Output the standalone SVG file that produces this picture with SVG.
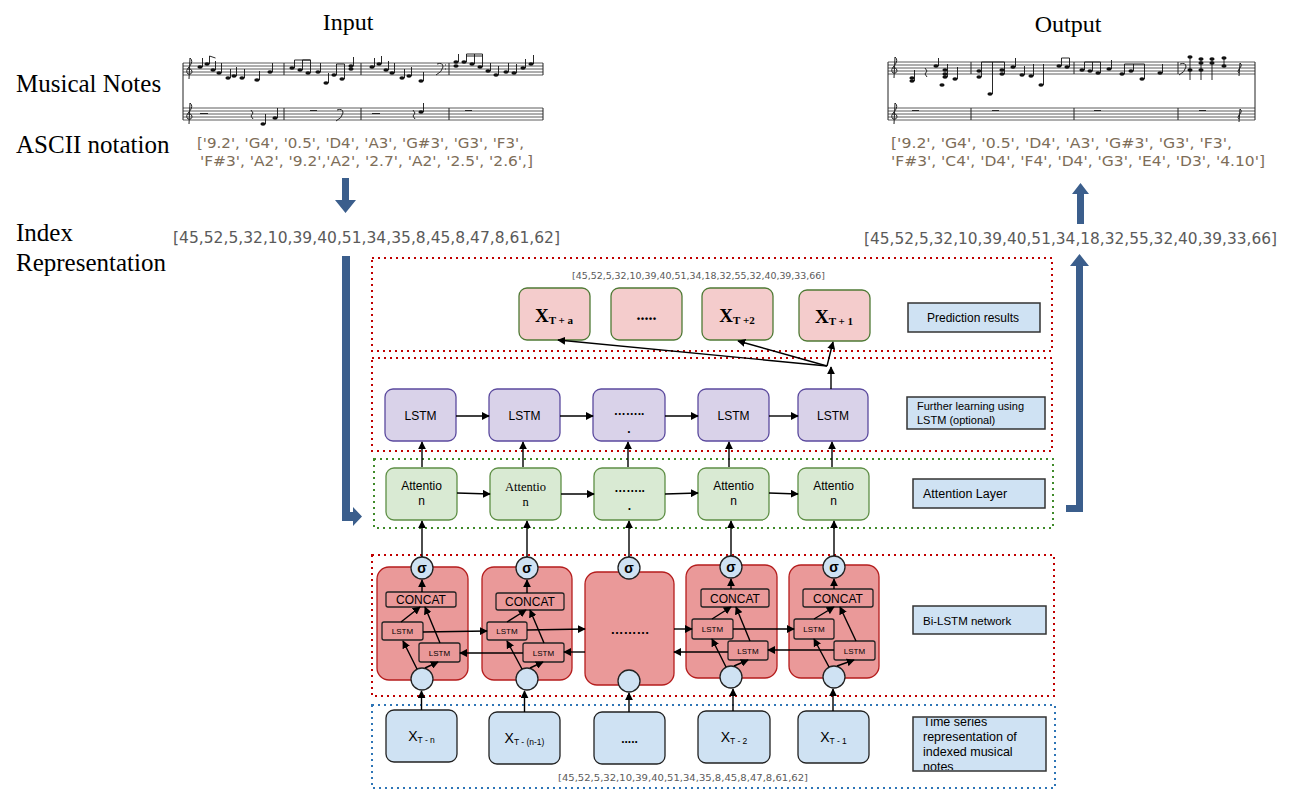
<svg xmlns="http://www.w3.org/2000/svg" width="1298" height="790" viewBox="0 0 1298 790">
<defs>
<marker id="ah" viewBox="0 0 10 10" refX="9" refY="5" markerWidth="8" markerHeight="8" markerUnits="userSpaceOnUse" orient="auto"><path d="M0,0 L10,5 L0,10 z" fill="#000"/></marker>
<clipPath id="tsclip"><rect x="914" y="718" width="131" height="52"/></clipPath>
<style>
.serif{font-family:"Liberation Serif","Times New Roman",serif;fill:#000}
.sans{font-family:"Liberation Sans",Arial,sans-serif;fill:#000}
.list{font-family:"DejaVu Sans","Open Sans",sans-serif;fill:#7d6d58;font-size:13.5px}
.idx{font-family:"DejaVu Sans","Open Sans",sans-serif;fill:#5a5a5a}
.staff{stroke:#333;stroke-width:0.8;fill:none}
.bar{stroke:#222;stroke-width:1;fill:none}
.nh{fill:#111}
.stem{stroke:#111;stroke-width:0.9}
.pink{fill:#f4cccc;stroke:#4f7a35;stroke-width:1.3}
.purple{fill:#d9d2e9;stroke:#5b4a9e;stroke-width:1.3}
.green{fill:#d9ead3;stroke:#5e8f45;stroke-width:1.3}
.cell{fill:#ea9999;stroke:#b51d1d;stroke-width:1.3}
.inner{fill:#ea9999;stroke:#222;stroke-width:1.3}
.lblue{fill:#cfe2f3;stroke:#222;stroke-width:1.3}
.label{fill:#cfe2f3;stroke:#333;stroke-width:1.5}
.conn{stroke:#000;stroke-width:1.4;fill:none;marker-end:url(#ah)}
.line{stroke:#000;stroke-width:1.4;fill:none}
.dotr{fill:none;stroke:#c00000;stroke-width:2;stroke-dasharray:2 4}
.dotg{fill:none;stroke:#3f8a2a;stroke-width:2;stroke-dasharray:2 4}
.dotb{fill:none;stroke:#2e75b6;stroke-width:2;stroke-dasharray:2 4}
.barrow{fill:#3b5e8c}
</style>
</defs>
<rect width="1298" height="790" fill="#fff"/>

<!-- headings -->
<g id="headings">
<text class="serif" x="348" y="30" font-size="24" text-anchor="middle">Input</text>
<text class="serif" x="1068" y="32" font-size="24" text-anchor="middle">Output</text>
<text class="serif" x="16" y="92" font-size="25">Musical Notes</text>
<text class="serif" x="16" y="153" font-size="25">ASCII notation</text>
<text class="serif" x="16" y="241" font-size="25">Index</text>
<text class="serif" x="16" y="271" font-size="25">Representation</text>
</g>

<!-- input score -->
<g id="input-score">
<path class="staff" d="M183,63H543M183,66H543M183,69H543M183,72H543M183,75H543M183,108H543M183,111H543M183,114H543M183,117H543M183,120H543"/>
<path class="bar" d="M183,63V120M284,63V75M361,63V75M449,63V75M543,63V75M284,108V120M361,108V120M449,108V120M543,108V120"/>
<path class="bar" d="M189,79 L190,58 Q194,61 189,67 Q185,71 188,74 Q192,75 192,71 Q191,68 188,69 M189,124 L190,103 Q194,106 189,112 Q185,116 188,119 Q192,120 192,116 Q191,113 188,114"/>
<g>
<ellipse class="nh" cx="200" cy="67" rx="2.6" ry="1.8"/><ellipse class="nh" cx="207" cy="64" rx="2.6" ry="1.8"/><ellipse class="nh" cx="213" cy="70" rx="2.6" ry="1.8"/><ellipse class="nh" cx="219" cy="73" rx="2.6" ry="1.8"/><ellipse class="nh" cx="228" cy="78" rx="2.6" ry="1.8"/><ellipse class="nh" cx="234" cy="76" rx="2.6" ry="1.8"/><ellipse class="nh" cx="242" cy="78" rx="2.6" ry="1.8"/><ellipse class="nh" cx="257" cy="80" rx="2.6" ry="1.8"/><ellipse class="nh" cx="270" cy="72" rx="2.6" ry="1.8"/>
<ellipse class="nh" cx="292" cy="68" rx="2.6" ry="1.8"/><ellipse class="nh" cx="300" cy="70" rx="2.6" ry="1.8"/><ellipse class="nh" cx="308" cy="73" rx="2.6" ry="1.8"/><ellipse class="nh" cx="318" cy="72" rx="2.6" ry="1.8"/><ellipse class="nh" cx="326" cy="83" rx="2.6" ry="1.8"/><ellipse class="nh" cx="334" cy="75" rx="2.6" ry="1.8"/><ellipse class="nh" cx="342" cy="79" rx="2.6" ry="1.8"/><ellipse class="nh" cx="351" cy="69" rx="2.6" ry="1.8"/><ellipse class="nh" cx="351" cy="66" rx="2.6" ry="1.8"/>
<ellipse class="nh" cx="372" cy="67" rx="2.6" ry="1.8"/><ellipse class="nh" cx="379" cy="64" rx="2.6" ry="1.8"/><ellipse class="nh" cx="386" cy="70" rx="2.6" ry="1.8"/><ellipse class="nh" cx="392" cy="73" rx="2.6" ry="1.8"/><ellipse class="nh" cx="402" cy="78" rx="2.6" ry="1.8"/><ellipse class="nh" cx="409" cy="76" rx="2.6" ry="1.8"/><ellipse class="nh" cx="421" cy="81" rx="2.6" ry="1.8"/>
<ellipse class="nh" cx="456" cy="62" rx="2.6" ry="1.8"/><ellipse class="nh" cx="456" cy="66" rx="2.6" ry="1.8"/><ellipse class="nh" cx="464" cy="62" rx="2.6" ry="1.8"/><ellipse class="nh" cx="472" cy="64" rx="2.6" ry="1.8"/><ellipse class="nh" cx="480" cy="67" rx="2.6" ry="1.8"/><ellipse class="nh" cx="488" cy="71" rx="2.6" ry="1.8"/><ellipse class="nh" cx="496" cy="75" rx="2.6" ry="1.8"/><ellipse class="nh" cx="506" cy="72" rx="2.6" ry="1.8"/><ellipse class="nh" cx="514" cy="73" rx="2.6" ry="1.8"/><ellipse class="nh" cx="523" cy="68" rx="2.6" ry="1.8"/><ellipse class="nh" cx="531" cy="64" rx="2.6" ry="1.8"/>
</g>
<path class="stem" d="M202.5,67V58M209.5,64V56M215.5,70V61M221.5,73V63M230.5,78V69M236.5,76V67M244.5,78V69M259.5,80V71M272.5,72V63M294.5,68V60M302.5,70V60M310.5,73V60M320.5,72V63M328.5,83V73M336.5,75V64M344.5,79V64M353.5,66V57M374.5,67V58M381.5,64V56M388.5,70V61M394.5,73V63M404.5,78V69M411.5,76V67M423.5,81V72M458.5,62V54M466.5,62V54M474.5,64V54M482.5,67V54M490.5,71V63M498.5,75V66M508.5,72V63M516.5,73V64M525.5,68V59M533.5,64V55"/>
<path class="stem" d="M209.5,56L215.5,58M294.5,60L310.5,60M302.5,60L310.5,60M336.5,64L344.5,64M466.5,54L482.5,54M466.5,56L482.5,56" stroke-width="1.6"/>
<path class="bar" d="M437,64 Q443,62 443,67 Q442,72 436,75 M445,65h1M445,69h1" stroke-width="1.2"/>
<path class="bar" d="M200,113.5h8M310,110.5h7M372,113.5h8M465,110.5h7" stroke-width="2.4"/>
<path class="bar" d="M251,110l2,3l-2,3l2,3M413,110l2,3l-2,3l2,3M337,110 Q343,108 343,113 Q342,118 336,121" stroke-width="1.1"/>
<ellipse class="nh" cx="263" cy="124" rx="2.6" ry="1.8"/><ellipse class="nh" cx="275" cy="118" rx="2.6" ry="1.8"/><ellipse class="nh" cx="421" cy="112" rx="2.6" ry="1.8"/>
<path class="stem" d="M265.5,124V114M277.5,118V108M423.5,112V103"/>
</g>

<!-- output score -->
<g id="output-score">
<path class="staff" d="M888,62H1255M888,65H1255M888,68H1255M888,71H1255M888,74H1255M888,108H1255M888,111H1255M888,114H1255M888,117H1255M888,120H1255"/>
<path class="bar" d="M888,62V120M971,62V74M1074,62V74M1178,62V74M1255,62V120M971,108V120M1074,108V120M1178,108V120"/>
<path class="bar" d="M894,78 L895,57 Q899,60 894,66 Q890,70 893,73 Q897,74 897,70 Q896,67 893,68 M894,124 L895,103 Q899,106 894,112 Q890,116 893,119 Q897,120 897,116 Q896,113 893,114 M1239,76 L1240,63 Q1243,65 1239,69 Q1237,72 1239,73 M1239,122 L1240,109 Q1243,111 1239,115 Q1237,118 1239,119"/>
<g>
<ellipse class="nh" cx="912" cy="78" rx="2.6" ry="1.8"/><ellipse class="nh" cx="912" cy="81" rx="2.6" ry="1.8"/><ellipse class="nh" cx="936" cy="66" rx="2.6" ry="1.8"/><ellipse class="nh" cx="945" cy="70" rx="2.6" ry="1.8"/><ellipse class="nh" cx="945" cy="74" rx="2.6" ry="1.8"/><ellipse class="nh" cx="945" cy="77" rx="2.6" ry="1.8"/><ellipse class="nh" cx="942" cy="85" rx="2.6" ry="1.8"/><ellipse class="nh" cx="955" cy="79" rx="2.6" ry="1.8"/>
<ellipse class="nh" cx="979" cy="71" rx="2.6" ry="1.8"/><ellipse class="nh" cx="979" cy="77" rx="2.6" ry="1.8"/><ellipse class="nh" cx="990" cy="94" rx="2.6" ry="1.8"/><ellipse class="nh" cx="1002" cy="70" rx="2.6" ry="1.8"/><ellipse class="nh" cx="1002" cy="74" rx="2.6" ry="1.8"/><ellipse class="nh" cx="1013" cy="67" rx="2.6" ry="1.8"/><ellipse class="nh" cx="1022" cy="75" rx="2.6" ry="1.8"/><ellipse class="nh" cx="1031" cy="76" rx="2.6" ry="1.8"/><ellipse class="nh" cx="1041" cy="85" rx="2.6" ry="1.8"/><ellipse class="nh" cx="1059" cy="66" rx="2.6" ry="1.8"/><ellipse class="nh" cx="1067" cy="67" rx="2.6" ry="1.8"/>
<ellipse class="nh" cx="1082" cy="70" rx="2.6" ry="1.8"/><ellipse class="nh" cx="1090" cy="71" rx="2.6" ry="1.8"/><ellipse class="nh" cx="1098" cy="73" rx="2.6" ry="1.8"/><ellipse class="nh" cx="1109" cy="69" rx="2.6" ry="1.8"/><ellipse class="nh" cx="1122" cy="74" rx="2.6" ry="1.8"/><ellipse class="nh" cx="1131" cy="71" rx="2.6" ry="1.8"/><ellipse class="nh" cx="1142" cy="79" rx="2.6" ry="1.8"/><ellipse class="nh" cx="1160" cy="73" rx="2.6" ry="1.8"/>
<ellipse class="nh" cx="1190" cy="57" rx="2.6" ry="1.8"/><ellipse class="nh" cx="1190" cy="70" rx="2.6" ry="1.8"/><ellipse class="nh" cx="1201" cy="59" rx="2.6" ry="1.8"/><ellipse class="nh" cx="1201" cy="63" rx="2.6" ry="1.8"/><ellipse class="nh" cx="1201" cy="70" rx="2.6" ry="1.8"/><ellipse class="nh" cx="1212" cy="59" rx="2.6" ry="1.8"/><ellipse class="nh" cx="1212" cy="63" rx="2.6" ry="1.8"/><ellipse class="nh" cx="1224" cy="58" rx="2.6" ry="1.8"/><ellipse class="nh" cx="1224" cy="66" rx="2.6" ry="1.8"/>
</g>
<path class="stem" d="M914.5,81V70M938.5,66V58M947.5,77V64M957.5,79V67M981.5,77V62M992.5,94V62M1004.5,74V62M1015.5,67V58M1024.5,75V66M1033.5,76V64M1043.5,85V64M1061.5,66V58M1069.5,67V58M1084.5,70V62M1092.5,71V62M1100.5,73V62M1111.5,69V60M1124.5,74V64M1133.5,71V64M1144.5,79V64M1162.5,73V64M1190,57V80M1201,59V80M1212,59V80M1224,58V66"/>
<path class="stem" d="M981.5,62L1004.5,62M1061.5,58L1069.5,58M1084.5,62L1100.5,62M1124.5,64L1144.5,64" stroke-width="1.6"/>
<path class="bar" d="M1180,64 Q1186,62 1186,67 Q1185,72 1179,75" stroke-width="1.2"/>
<path class="bar" d="M912,110.5h7M992,110.5h7M1094,110.5h7M1199,110.5h7" stroke-width="2.4"/>
<path class="bar" d="M925,68l2,3l-2,3l2,3" stroke-width="1.1"/>
</g>

<!-- text lists -->
<g id="lists">
<text class="list" x="197" y="148" textLength="327" lengthAdjust="spacingAndGlyphs">['9.2', 'G4', '0.5', 'D4', 'A3', 'G#3', 'G3', 'F3',</text>
<text class="list" x="200" y="166" textLength="333" lengthAdjust="spacingAndGlyphs">'F#3', 'A2', '9.2','A2', '2.7', 'A2', '2.5', '2.6',]</text>
<text class="list" x="891" y="148" textLength="341" lengthAdjust="spacingAndGlyphs">['9.2', 'G4', '0.5', 'D4', 'A3', 'G#3', 'G3', 'F3',</text>
<text class="list" x="891" y="166" textLength="374" lengthAdjust="spacingAndGlyphs">'F#3', 'C4', 'D4', 'F4', 'D4', 'G3', 'E4', 'D3', '4.10']</text>
<text class="idx" x="173" y="243" font-size="15" textLength="387" lengthAdjust="spacingAndGlyphs">[45,52,5,32,10,39,40,51,34,35,8,45,8,47,8,61,62]</text>
<text class="idx" x="864" y="244" font-size="15" textLength="413" lengthAdjust="spacingAndGlyphs">[45,52,5,32,10,39,40,51,34,18,32,55,32,40,39,33,66]</text>
<text class="idx" x="572" y="279" font-size="8.5" textLength="253" lengthAdjust="spacingAndGlyphs">[45,52,5,32,10,39,40,51,34,18,32,55,32,40,39,33,66]</text>
<text class="idx" x="558" y="781" font-size="8.5" textLength="250" lengthAdjust="spacingAndGlyphs">[45,52,5,32,10,39,40,51,34,35,8,45,8,47,8,61,62]</text>
</g>

<!-- blue block arrows -->
<g id="block-arrows">
<polygon class="barrow" points="342,178 349,178 349,200 356,200 345.5,213 335,200 342,200"/>
<polygon class="barrow" points="1077,224 1084,224 1084,194 1089,194 1080.5,183 1072,194 1077,194"/>
<polygon class="barrow" points="342,256 350,256 350,512 353,512 353,507 362,516.5 353,526 353,521 342,521"/>
<polygon class="barrow" points="1066,505 1076,505 1076,266 1070,266 1079.5,254 1089,266 1083,266 1083,512 1066,512"/>
</g>

<!-- layer frames -->
<g id="frames">
<rect class="dotr" x="372" y="258" width="680" height="93"/>
<rect class="dotr" x="372" y="358" width="680" height="93"/>
<rect class="dotg" x="374" y="459" width="679" height="69"/>
<rect class="dotr" x="372" y="555" width="682" height="141"/>
<rect class="dotb" x="372" y="705" width="683" height="83"/>
</g>

<!-- prediction nodes -->
<g id="pred-a"><rect class="pink" x="519" y="288" width="71" height="52" rx="8"/><text class="serif" x="554" y="322" text-anchor="middle" font-weight="bold"><tspan font-size="19">X</tspan><tspan font-size="11" dy="2">T + a</tspan></text></g>
<g id="pred-dots"><rect class="pink" x="611" y="288" width="71" height="52" rx="8"/><text class="serif" x="646.5" y="320" text-anchor="middle" font-weight="bold" font-size="16">.....</text></g>
<g id="pred-2"><rect class="pink" x="702" y="288" width="71" height="52" rx="8"/><text class="serif" x="737" y="322" text-anchor="middle" font-weight="bold"><tspan font-size="19">X</tspan><tspan font-size="11" dy="2">T +2</tspan></text></g>
<g id="pred-1"><rect class="pink" x="799" y="290" width="71" height="51" rx="8"/><text class="serif" x="834" y="323" text-anchor="middle" font-weight="bold"><tspan font-size="19">X</tspan><tspan font-size="11" dy="2">T + 1</tspan></text></g>

<!-- LSTM layer -->
<g id="lstm-1"><rect class="purple" x="385" y="389" width="71" height="52" rx="8"/><text class="sans" x="420.5" y="420" font-size="12" text-anchor="middle">LSTM</text></g>
<g id="lstm-2"><rect class="purple" x="489" y="389" width="71" height="52" rx="8"/><text class="sans" x="524.5" y="420" font-size="12" text-anchor="middle">LSTM</text></g>
<g id="lstm-3"><rect class="purple" x="593" y="389" width="72" height="52" rx="8"/><text class="sans" x="629" y="415" font-size="12" font-weight="bold" text-anchor="middle">……..</text><text class="sans" x="629" y="433" font-size="12" font-weight="bold" text-anchor="middle">.</text></g>
<g id="lstm-4"><rect class="purple" x="698" y="389" width="71" height="52" rx="8"/><text class="sans" x="733.5" y="420" font-size="12" text-anchor="middle">LSTM</text></g>
<g id="lstm-5"><rect class="purple" x="798" y="389" width="70" height="52" rx="8"/><text class="sans" x="833" y="420" font-size="12" text-anchor="middle">LSTM</text></g>

<!-- Attention layer -->
<g id="att-1"><rect class="green" x="386" y="468" width="71" height="52" rx="8"/><text class="sans" x="421.5" y="490" font-size="12" text-anchor="middle">Attentio</text><text class="sans" x="421.5" y="505" font-size="12" text-anchor="middle">n</text></g>
<g id="att-2"><rect class="green" x="490" y="468" width="71" height="52" rx="8"/><text class="serif" x="525.5" y="491" font-size="12.5" text-anchor="middle">Attentio</text><text class="serif" x="525.5" y="506" font-size="12.5" text-anchor="middle">n</text></g>
<g id="att-3"><rect class="green" x="594" y="468" width="71" height="52" rx="8"/><text class="sans" x="629.5" y="492" font-size="12" font-weight="bold" text-anchor="middle">……..</text><text class="sans" x="629.5" y="510" font-size="12" font-weight="bold" text-anchor="middle">.</text></g>
<g id="att-4"><rect class="green" x="698" y="468" width="71" height="52" rx="8"/><text class="sans" x="733.5" y="490" font-size="12" text-anchor="middle">Attentio</text><text class="sans" x="733.5" y="505" font-size="12" text-anchor="middle">n</text></g>
<g id="att-5"><rect class="green" x="798" y="468" width="71" height="52" rx="8"/><text class="sans" x="833.5" y="490" font-size="12" text-anchor="middle">Attentio</text><text class="sans" x="833.5" y="505" font-size="12" text-anchor="middle">n</text></g>

<!-- Bi-LSTM cells -->
<g id="bilstm-1">
<rect class="cell" x="377" y="567" width="91" height="113" rx="12"/>
<rect class="inner" x="386" y="592" width="70" height="15" rx="2"/><text class="sans" x="421" y="604" font-size="12" text-anchor="middle">CONCAT</text>
<rect class="inner" x="382" y="622" width="41" height="18" rx="2"/><text class="sans" x="402.5" y="634" font-size="8" text-anchor="middle">LSTM</text>
<rect class="inner" x="419" y="643" width="41" height="19" rx="2"/><text class="sans" x="439.5" y="656" font-size="8" text-anchor="middle">LSTM</text>
<circle class="lblue" cx="422" cy="568" r="11"/><text class="sans" x="422" y="573" font-size="14" font-weight="bold" text-anchor="middle">σ</text>
<circle class="lblue" cx="422" cy="679" r="11"/>
</g>
<g id="bilstm-2">
<rect class="cell" x="482" y="567" width="90" height="113" rx="12"/>
<rect class="inner" x="496" y="593" width="68" height="17" rx="2"/><text class="sans" x="530" y="606" font-size="12" text-anchor="middle">CONCAT</text>
<rect class="inner" x="487" y="622" width="40" height="18" rx="2"/><text class="sans" x="507" y="634" font-size="8" text-anchor="middle">LSTM</text>
<rect class="inner" x="523" y="643" width="41" height="19" rx="2"/><text class="sans" x="543.5" y="656" font-size="8" text-anchor="middle">LSTM</text>
<circle class="lblue" cx="527" cy="568" r="11"/><text class="sans" x="527" y="573" font-size="14" font-weight="bold" text-anchor="middle">σ</text>
<circle class="lblue" cx="527" cy="679" r="11"/>
</g>
<g id="bilstm-3">
<rect class="cell" x="585" y="572" width="89" height="113" rx="12"/>
<text class="sans" x="630" y="634" font-size="13" font-weight="bold" text-anchor="middle">………</text>
<circle class="lblue" cx="629" cy="568" r="11"/><text class="sans" x="629" y="573" font-size="14" font-weight="bold" text-anchor="middle">σ</text>
<circle class="lblue" cx="629" cy="681" r="11"/>
</g>
<g id="bilstm-4">
<rect class="cell" x="686" y="565" width="91" height="113" rx="12"/>
<rect class="inner" x="701" y="589" width="68" height="18" rx="2"/><text class="sans" x="735" y="603" font-size="12" text-anchor="middle">CONCAT</text>
<rect class="inner" x="692" y="619" width="41" height="20" rx="2"/><text class="sans" x="712.5" y="632" font-size="8" text-anchor="middle">LSTM</text>
<rect class="inner" x="728" y="641" width="40" height="19" rx="2"/><text class="sans" x="748" y="654" font-size="8" text-anchor="middle">LSTM</text>
<circle class="lblue" cx="731" cy="567" r="11"/><text class="sans" x="731" y="572" font-size="14" font-weight="bold" text-anchor="middle">σ</text>
<circle class="lblue" cx="731" cy="677" r="11"/>
</g>
<g id="bilstm-5">
<rect class="cell" x="789" y="565" width="90" height="113" rx="12"/>
<rect class="inner" x="803" y="589" width="70" height="18" rx="2"/><text class="sans" x="838" y="603" font-size="12" text-anchor="middle">CONCAT</text>
<rect class="inner" x="794" y="619" width="40" height="20" rx="2"/><text class="sans" x="814" y="632" font-size="8" text-anchor="middle">LSTM</text>
<rect class="inner" x="834" y="641" width="41" height="19" rx="2"/><text class="sans" x="854.5" y="654" font-size="8" text-anchor="middle">LSTM</text>
<circle class="lblue" cx="834" cy="567" r="11"/><text class="sans" x="834" y="572" font-size="14" font-weight="bold" text-anchor="middle">σ</text>
<circle class="lblue" cx="834" cy="677" r="11"/>
</g>

<!-- time series nodes -->
<g id="x-tn"><rect class="lblue" x="386" y="710" width="71" height="52" rx="8"/><text class="sans" x="421.5" y="741" text-anchor="middle"><tspan font-size="14">X</tspan><tspan font-size="8.5" dy="2">T - n</tspan></text></g>
<g id="x-tn1"><rect class="lblue" x="489" y="712" width="71" height="52" rx="8"/><text class="sans" x="524.5" y="743" text-anchor="middle"><tspan font-size="14">X</tspan><tspan font-size="8.5" dy="2">T - (n-1)</tspan></text></g>
<g id="x-dots"><rect class="lblue" x="594" y="712" width="71" height="52" rx="8"/><text class="sans" x="629.5" y="743" font-size="12" font-weight="bold" text-anchor="middle">.....</text></g>
<g id="x-t2"><rect class="lblue" x="698" y="711" width="72" height="52" rx="8"/><text class="sans" x="734" y="742" text-anchor="middle"><tspan font-size="14">X</tspan><tspan font-size="8.5" dy="2">T - 2</tspan></text></g>
<g id="x-t1"><rect class="lblue" x="798" y="711" width="71" height="52" rx="8"/><text class="sans" x="833.5" y="742" text-anchor="middle"><tspan font-size="14">X</tspan><tspan font-size="8.5" dy="2">T - 1</tspan></text></g>

<!-- legend labels -->
<g id="lbl-pred"><rect class="label" x="908" y="303" width="132" height="29"/><text class="sans" x="927" y="322" font-size="12">Prediction results</text></g>
<g id="lbl-further"><rect class="label" x="907" y="397" width="138" height="32"/><text class="sans" x="917" y="410" font-size="11">Further learning using</text><text class="sans" x="917" y="424" font-size="11">LSTM (optional)</text></g>
<g id="lbl-att"><rect class="label" x="913" y="479" width="132" height="29"/><text class="sans" x="923" y="498" font-size="12.5">Attention Layer</text></g>
<g id="lbl-bilstm"><rect class="label" x="913" y="606" width="133" height="28"/><text class="sans" x="923" y="625" font-size="11.5">Bi-LSTM network</text></g>
<g id="lbl-ts"><rect class="label" x="913" y="717" width="133" height="54"/>
<g clip-path="url(#tsclip)"><text class="sans" x="923" y="726" font-size="12.5">Time series</text><text class="sans" x="923" y="741" font-size="12.5">representation of</text><text class="sans" x="923" y="756" font-size="12.5">indexed musical</text><text class="sans" x="923" y="771" font-size="12.5">notes</text></g></g>

<!-- connectors -->
<g id="connectors">
<path class="conn" d="M421.5,710V691"/><path class="conn" d="M524.5,712V691"/><path class="conn" d="M629,712V693"/><path class="conn" d="M733,711V689"/><path class="conn" d="M833,711V689"/>
<path class="conn" d="M417,669L403,641"/><path class="conn" d="M425,668L438,662"/><path class="conn" d="M401,622L420,607"/><path class="conn" d="M440,643L425,607"/><path class="conn" d="M422,592V580"/>
<path class="conn" d="M522,669L507,641"/><path class="conn" d="M530,668L543,662"/><path class="conn" d="M507,622L526,610"/><path class="conn" d="M544,643L530,610"/><path class="conn" d="M527,593V580"/>
<path class="conn" d="M726,667L712,639"/><path class="conn" d="M734,666L748,660"/><path class="conn" d="M712,619L731,607"/><path class="conn" d="M750,641L736,607"/><path class="conn" d="M731,589V579"/>
<path class="conn" d="M829,667L814,639"/><path class="conn" d="M837,666L854,660"/><path class="conn" d="M814,619L834,607"/><path class="conn" d="M856,641L840,607"/><path class="conn" d="M834,589V579"/>
<path class="conn" d="M423,632L487,631"/><path class="conn" d="M527,630L585,629"/><path class="conn" d="M674,629L692,629"/><path class="conn" d="M733,629L794,629"/>
<path class="conn" d="M523,653L460,653"/><path class="conn" d="M585,652L564,652"/><path class="conn" d="M728,652L674,652"/><path class="conn" d="M834,650L768,650"/>
<path class="conn" d="M422,557V521"/><path class="conn" d="M527,557V521"/><path class="conn" d="M629,557V521"/><path class="conn" d="M731,556V521"/><path class="conn" d="M834,556V521"/>
<path class="conn" d="M457,493L490,494"/><path class="conn" d="M561,494L594,494"/><path class="conn" d="M665,494L698,493"/><path class="conn" d="M769,493L798,494"/>
<path class="conn" d="M422,467V442"/><path class="conn" d="M523,467V442"/><path class="conn" d="M628,467V442"/><path class="conn" d="M729,467V442"/><path class="conn" d="M832,467V442"/>
<path class="conn" d="M456,416H489"/><path class="conn" d="M560,416H593"/><path class="conn" d="M665,416H698"/><path class="conn" d="M769,416H798"/>
<path class="conn" d="M831,389V367"/>
<path class="conn" d="M827,366L558,340"/><path class="conn" d="M827,366L738,341"/><path class="conn" d="M827,366L833,342"/>
</g>
</svg>
